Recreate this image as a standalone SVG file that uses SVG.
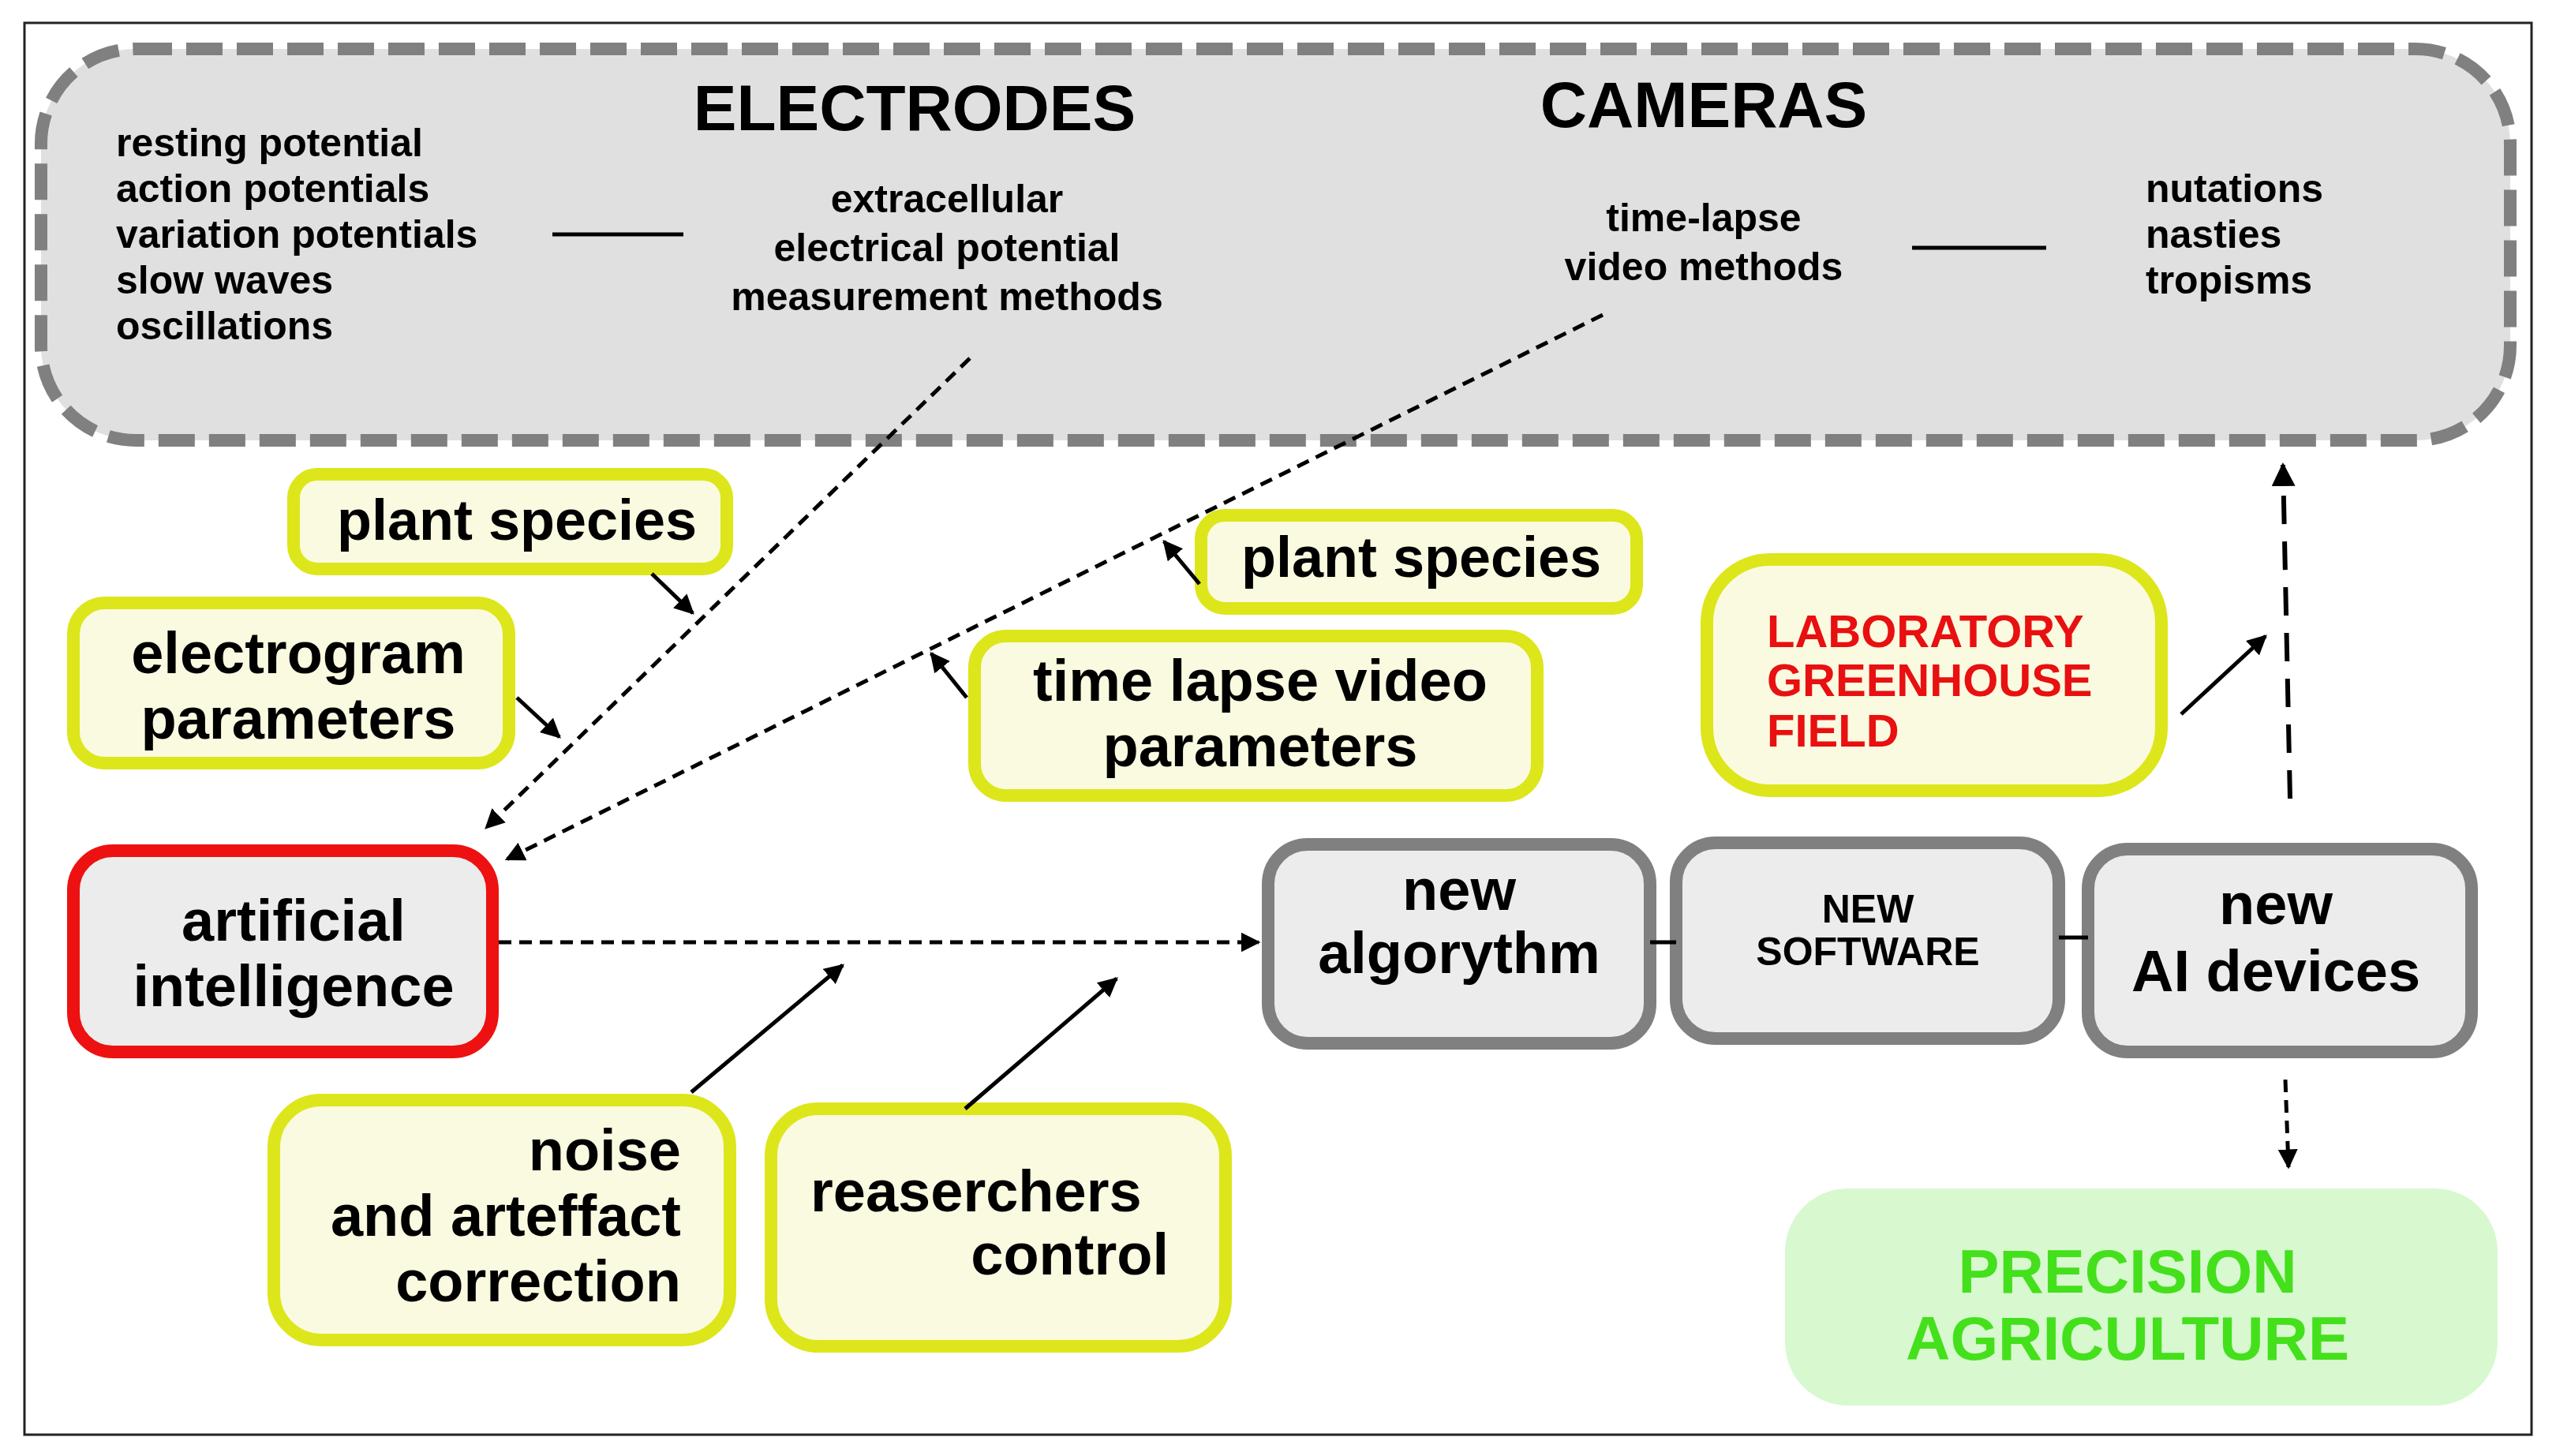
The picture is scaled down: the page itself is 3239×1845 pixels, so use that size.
<svg xmlns="http://www.w3.org/2000/svg" width="3239" height="1845" viewBox="0 0 3239 1845">
<style>
text{font-family:"Liberation Sans",Arial,sans-serif;font-weight:bold;fill:#000}
.y{fill:#fafae0;stroke:#dde61a;stroke-width:16}
.g{fill:#ececec;stroke:#808080;stroke-width:16}
.c{text-anchor:middle}
.big{font-size:74px}
.sm{font-size:50px}
.ln{stroke:#000;stroke-width:5;fill:none}
.da{stroke:#000;stroke-width:5;fill:none;stroke-dasharray:16 10}
</style>
<defs>
<marker id="a" viewBox="0 0 10 10" refX="9" refY="5" markerWidth="5" markerHeight="5" orient="auto" markerUnits="strokeWidth"><path d="M0,0L10,5L0,10z" fill="#000"/></marker>
</defs>
<rect x="31" y="29" width="3177" height="1789" fill="#fff" stroke="#222" stroke-width="3"/>
<g id="top">
<rect x="52" y="62" width="3129" height="496" rx="120" fill="#e0e0e0" stroke="#808080" stroke-width="16" stroke-dasharray="46 18"/>
<text x="1159" y="165" class="c" font-size="82">ELECTRODES</text>
<text x="2159" y="161" class="c" font-size="82">CAMERAS</text>
<text x="147" y="198" class="sm">resting potential</text>
<text x="147" y="256" class="sm">action potentials</text>
<text x="147" y="314" class="sm">variation potentials</text>
<text x="147" y="372" class="sm">slow waves</text>
<text x="147" y="430" class="sm">oscillations</text>
<text x="1200" y="269" class="sm c">extracellular</text>
<text x="1200" y="331" class="sm c">electrical potential</text>
<text x="1200" y="393" class="sm c">measurement methods</text>
<text x="2159" y="293" class="sm c">time-lapse</text>
<text x="2159" y="355" class="sm c">video methods</text>
<text x="2719" y="256" class="sm">nutations</text>
<text x="2719" y="314" class="sm">nasties</text>
<text x="2719" y="372" class="sm">tropisms</text>
</g>
<g id="ps1"><rect class="y" x="372" y="601" width="549" height="120" rx="30"/><text x="655" y="684" class="c" font-size="72">plant species</text></g>
<g id="eg"><rect class="y" x="93" y="764" width="552" height="203" rx="40"/><text x="378" y="853" class="c big">electrogram</text><text x="378" y="936" class="c big">parameters</text></g>
<g id="ps2"><rect class="y" x="1522" y="653" width="552" height="118" rx="30"/><text x="1801" y="731" class="c" font-size="72">plant species</text></g>
<g id="tl"><rect class="y" x="1235" y="806" width="713" height="202" rx="40"/><text x="1597" y="888" class="c big">time lapse video</text><text x="1597" y="971" class="c big">parameters</text></g>
<g id="lab"><rect class="y" x="2163" y="709" width="576" height="293" rx="80"/><text x="2239" y="820" font-size="58" style="fill:#e81010">LABORATORY</text><text x="2239" y="882" font-size="58" style="fill:#e81010">GREENHOUSE</text><text x="2239" y="946" font-size="58" style="fill:#e81010">FIELD</text></g>
<g id="ai"><rect x="93" y="1078" width="531" height="255" rx="50" fill="#ececec" stroke="#ee1111" stroke-width="16"/><text x="372" y="1192" class="c big">artificial</text><text x="372" y="1275" class="c big">intelligence</text></g>
<g id="alg"><rect class="g" x="1607" y="1070" width="484" height="252" rx="50"/><text x="1849" y="1153" class="c big">new</text><text x="1849" y="1233" class="c big">algorythm</text></g>
<g id="sw"><rect class="g" x="2124" y="1068" width="485" height="248" rx="50"/><text x="2367" y="1169" class="c sm">NEW</text><text x="2367" y="1223" class="c sm">SOFTWARE</text></g>
<g id="dev"><rect class="g" x="2646" y="1076" width="486" height="257" rx="50"/><text x="2884" y="1171" class="c big">new</text><text x="2884" y="1256" class="c big">AI devices</text></g>
<g id="pa"><rect x="2262" y="1506" width="903" height="275" rx="80" fill="#d8f8d0"/><text x="2696" y="1638" class="c" font-size="78" style="fill:#44e01c">PRECISION</text><text x="2696" y="1723" class="c" font-size="78" style="fill:#44e01c">AGRICULTURE</text></g>
<g id="noise"><rect class="y" x="347" y="1394" width="578" height="304" rx="60"/><g text-anchor="end"><text x="863" y="1483" class="big">noise</text><text x="863" y="1566" class="big">and arteffact</text><text x="863" y="1649" class="big">correction</text></g></g>
<g id="rc"><rect class="y" x="977" y="1405" width="576" height="301" rx="60"/><text x="1027" y="1535" class="big">reaserchers</text><text x="1481" y="1615" class="big" text-anchor="end">control</text></g>
<g id="connectors">
<line class="ln" x1="700" y1="297" x2="866" y2="297"/>
<line class="ln" x1="2423" y1="314" x2="2593" y2="314"/>
<line class="da" x1="1229" y1="454" x2="616" y2="1049" marker-end="url(#a)"/>
<line class="da" x1="2031" y1="399" x2="642" y2="1089" marker-end="url(#a)"/>
<line class="ln" x1="826" y1="727" x2="878" y2="777" marker-end="url(#a)"/>
<line class="ln" x1="655" y1="884" x2="709" y2="934" marker-end="url(#a)"/>
<line class="ln" x1="1520" y1="740" x2="1475" y2="686" marker-end="url(#a)"/>
<line class="ln" x1="1225" y1="884" x2="1180" y2="828" marker-end="url(#a)"/>
<line class="ln" x1="2764" y1="905" x2="2871" y2="806" marker-end="url(#a)"/>
<line x1="2902" y1="1012" x2="2893" y2="589" stroke="#000" stroke-width="6" stroke-dasharray="36 22" marker-end="url(#a)"/>
<line class="da" x1="632" y1="1194" x2="1595" y2="1194" marker-end="url(#a)"/>
<line class="ln" x1="2091" y1="1194" x2="2124" y2="1194"/>
<line class="ln" x1="2609" y1="1188" x2="2646" y2="1188"/>
<line class="da" x1="2896" y1="1368" x2="2900" y2="1479" marker-end="url(#a)" stroke-dasharray="24 14"/>
<line class="ln" x1="876" y1="1384" x2="1068" y2="1223" marker-end="url(#a)"/>
<line class="ln" x1="1223" y1="1405" x2="1415" y2="1240" marker-end="url(#a)"/>
</g>
</svg>
